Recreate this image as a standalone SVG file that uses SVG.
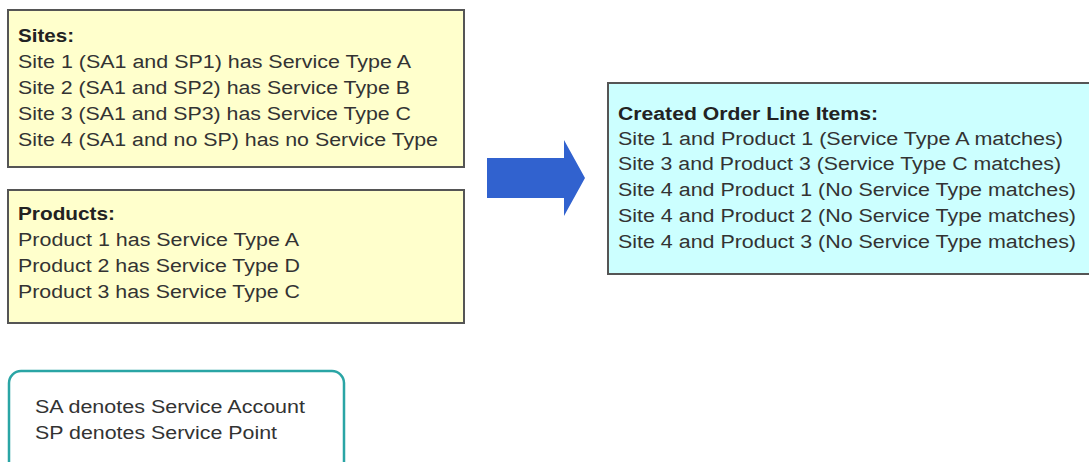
<svg xmlns="http://www.w3.org/2000/svg" width="1089" height="462" viewBox="0 0 1089 462">
<style>
.box{stroke:#555;stroke-width:2}
.y{fill:#ffffcc}
.c{fill:#ccffff}
text{font-family:"Liberation Sans",Arial,sans-serif;font-size:18px;fill:#333}
.b{font-weight:bold;fill:#222}
</style>
<rect width="1089" height="462" fill="#fff"/>
<g id="sites">
<rect class="box y" x="8" y="10" width="456" height="157"/>
<text x="18" y="42" class="b" textLength="56" lengthAdjust="spacingAndGlyphs">Sites:</text>
<text x="18" y="68" textLength="393" lengthAdjust="spacingAndGlyphs">Site 1 (SA1 and SP1) has Service Type A</text>
<text x="18" y="94" textLength="392" lengthAdjust="spacingAndGlyphs">Site 2 (SA1 and SP2) has Service Type B</text>
<text x="18" y="120" textLength="393" lengthAdjust="spacingAndGlyphs">Site 3 (SA1 and SP3) has Service Type C</text>
<text x="18" y="146" textLength="420" lengthAdjust="spacingAndGlyphs">Site 4 (SA1 and no SP) has no Service Type</text>
</g>
<g id="products">
<rect class="box y" x="8" y="190" width="456" height="133"/>
<text x="18" y="220" class="b" textLength="97" lengthAdjust="spacingAndGlyphs">Products:</text>
<text x="18" y="246" textLength="281" lengthAdjust="spacingAndGlyphs">Product 1 has Service Type A</text>
<text x="18" y="272" textLength="282" lengthAdjust="spacingAndGlyphs">Product 2 has Service Type D</text>
<text x="18" y="298" textLength="282" lengthAdjust="spacingAndGlyphs">Product 3 has Service Type C</text>
</g>
<g id="legend">
<rect x="9" y="371" width="335" height="110" rx="12" fill="#fff" stroke="#2aa5a5" stroke-width="2.5"/>
<text x="35" y="413" textLength="270" lengthAdjust="spacingAndGlyphs">SA denotes Service Account</text>
<text x="35" y="439" textLength="242" lengthAdjust="spacingAndGlyphs">SP denotes Service Point</text>
</g>
<g id="result">
<rect class="box c" x="608" y="83" width="490" height="191"/>
<text x="618" y="120" class="b" textLength="260" lengthAdjust="spacingAndGlyphs">Created Order Line Items:</text>
<text x="618" y="145" textLength="445" lengthAdjust="spacingAndGlyphs">Site 1 and Product 1 (Service Type A matches)</text>
<text x="618" y="170" textLength="443" lengthAdjust="spacingAndGlyphs">Site 3 and Product 3 (Service Type C matches)</text>
<text x="618" y="196" textLength="458" lengthAdjust="spacingAndGlyphs">Site 4 and Product 1 (No Service Type matches)</text>
<text x="618" y="222" textLength="458" lengthAdjust="spacingAndGlyphs">Site 4 and Product 2 (No Service Type matches)</text>
<text x="618" y="248" textLength="458" lengthAdjust="spacingAndGlyphs">Site 4 and Product 3 (No Service Type matches)</text>
</g>
<g id="connectors">
<polygon points="487,158 564,158 564,140 585,178 564,216 564,198 487,198" fill="#3162cf"/>
</g>
</svg>
